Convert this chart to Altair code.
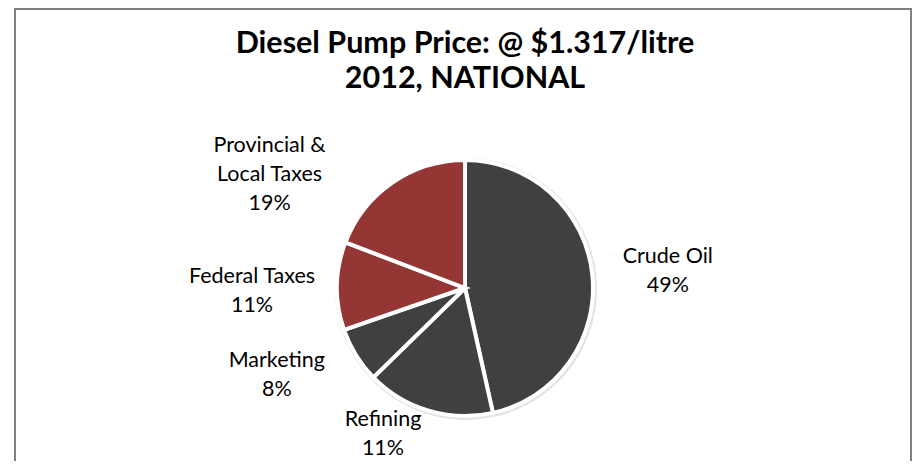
import altair as alt
import pandas as pd

# ---- data ----
categories = ["Crude Oil", "Refining", "Marketing", "Federal Taxes", "Provincial & Local Taxes"]
shares = [46.5, 16.2, 7.0, 11.1, 19.2]          # slice sizes as drawn
label_text = ["Crude Oil\n49%", "Refining\n11%", "Marketing\n8%",
              "Federal Taxes\n11%", "Provincial &\nLocal Taxes\n19%"]
slice_colors = ["#404040", "#404040", "#404040", "#943634", "#943634"]
title_lines = ["Diesel Pump Price: @ $1.317/litre", "2012, NATIONAL"]

df = pd.DataFrame({
    "category": categories,
    "share": shares,
    "order": list(range(len(categories))),
    "label": label_text,
})
total = float(sum(shares))

W, H = 904, 453
CX, CY = 457, 280
R = 128
FONT = "Lato"

theta_scale = alt.Scale(domain=[0, total])

base = (
    alt.Chart(df)
    .transform_window(cum="sum(share)", sort=[alt.SortField("order")], frame=[None, 0])
    .transform_calculate(start="datum.cum - datum.share", mid="datum.cum - datum.share / 2")
)

shadow = base.mark_arc(outerRadius=R + 3, color="#e4e4e4").encode(
    theta=alt.Theta("start:Q", scale=theta_scale, stack=False),
    theta2="cum:Q",
    x=alt.value(CX + 1),
    y=alt.value(CY + 1),
)

pie = base.mark_arc(outerRadius=R, stroke="white", strokeWidth=4).encode(
    theta=alt.Theta("start:Q", scale=theta_scale, stack=False),
    theta2="cum:Q",
    color=alt.Color("category:N", scale=alt.Scale(domain=categories, range=slice_colors), legend=None),
    x=alt.value(CX),
    y=alt.value(CY),
)

offsets = {
    "Crude Oil": (4, -9),
    "Refining": (-25, -60),
    "Marketing": (-18, -32),
    "Federal Taxes": (-13, -8),
    "Provincial & Local Taxes": (-82, 23),
}

label_layers = []
for cat in categories:
    dx, dy = offsets[cat]
    label_layers.append(
        base.transform_filter(alt.datum.category == cat)
        .mark_text(lineBreak="\n", font=FONT, fontSize=21.5, lineHeight=29,
                   align="center", baseline="middle", radius=200,
                   dx=dx, dy=dy, color="black")
        .encode(
            theta=alt.Theta("mid:Q", scale=theta_scale, stack=False),
            text="label:N",
            x=alt.value(CX),
            y=alt.value(CY),
        )
    )

one = alt.Data(values=[{}])
title = alt.Chart(one).mark_text(
    text=title_lines, font=FONT, fontSize=30.5, fontWeight="bold", lineHeight=35,
    align="center", baseline="alphabetic", color="black",
).encode(x=alt.value(CX), y=alt.value(45))

border_left = alt.Chart(one).mark_rule(color="#808080", strokeWidth=2).encode(
    x=alt.value(7), y=alt.value(0), y2=alt.value(H))
border_right = alt.Chart(one).mark_rule(color="#808080", strokeWidth=2).encode(
    x=alt.value(903), y=alt.value(0), y2=alt.value(H))
border_top = alt.Chart(one).mark_rule(color="#808080", strokeWidth=2).encode(
    x=alt.value(6), x2=alt.value(904), y=alt.value(1))

chart = alt.layer(
    shadow, pie, *label_layers, title, border_left, border_right, border_top
).properties(
    width=W, height=H,
    autosize=alt.AutoSizeParams(type="none"),
    padding=0,
    background="white",
).configure_view(stroke=None)

chart.save("out.html", embed_options={"renderer": "svg", "actions": False})
